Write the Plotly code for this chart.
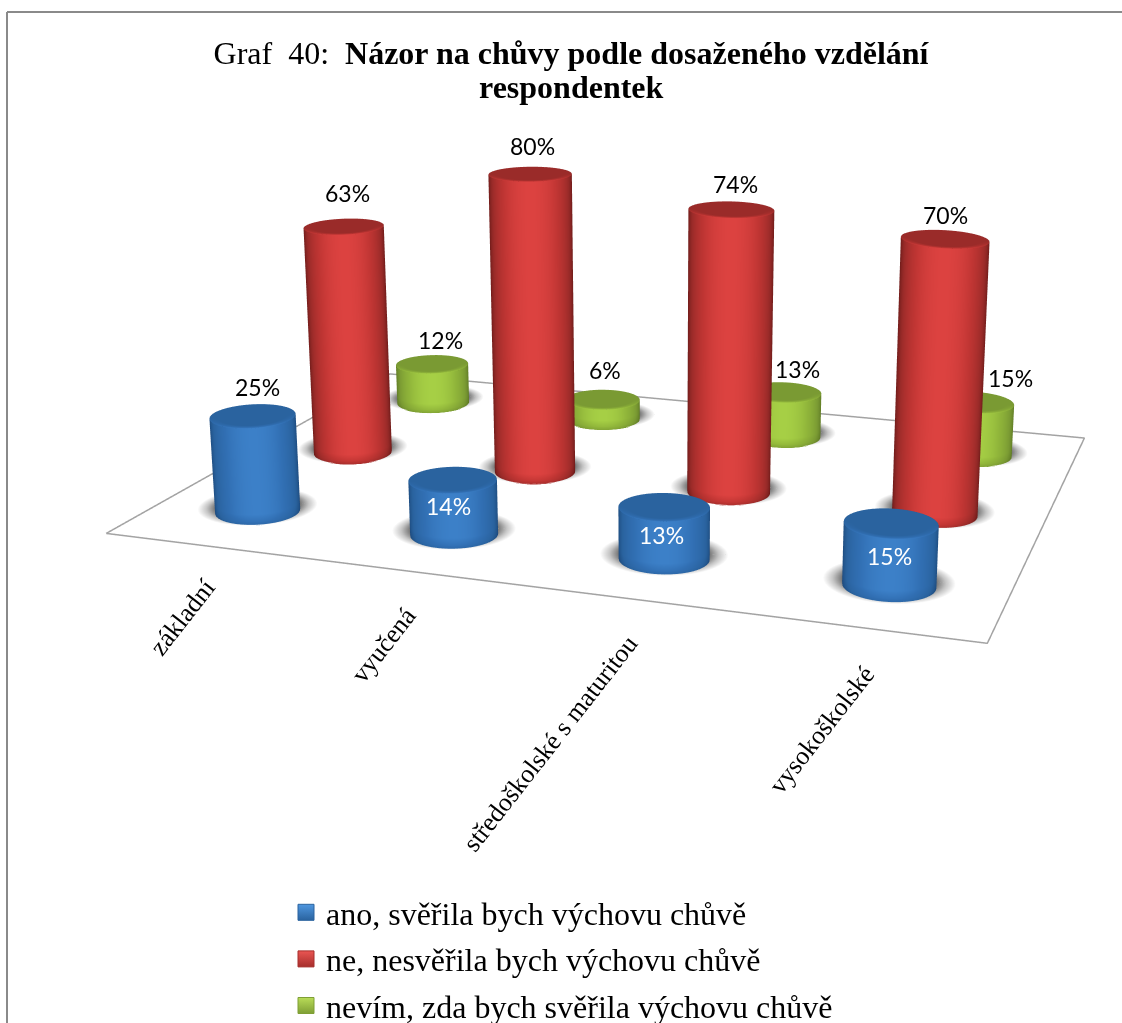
import numpy as np
import plotly.graph_objects as go

categories = ["základní", "vyučená", "středoškolské s maturitou", "vysokoškolské"]
series_names = ["ano, svěřila bych výchovu chůvě", "ne, nesvěřila bych výchovu chůvě", "nevím, zda bych svěřila výchovu chůvě"]
ano = [25, 14, 13, 15]
ne = [63, 80, 74, 70]
nevim = [12, 6, 13, 15]
values = [ano, ne, nevim]

W, H = 1122, 1023
F = (H / 2) / np.tan(np.pi / 8)  # focal length of the 45 degree WebGL camera in pixels

# Scene set-up: camera and proportions.
EYE = np.array([0.2244, -1.3749, 0.5169])
CENTER = np.array([-0.0612, -0.1283, -0.2])
UP = np.array([-0.0042, -0.001, 1.0])
ASPECT_Y, ASPECT_Z = 0.5312, 0.4396
# The reference's lens is longer than the WebGL one: a small shear compensates for it.
SHEAR_XZ, SHEAR_YZ, SHEAR_XY = -0.1649, 0.8646, 0.2173
RADIUS = 0.0519
XR, YR, ZR = [-1, 5], [-1, 4], [0, 100]

fw = (CENTER - EYE) / np.linalg.norm(CENTER - EYE)
right = np.cross(fw, UP)
right = right / np.linalg.norm(right)
cam_up = np.cross(right, fw)


def shear(x, y, z):
    return x + SHEAR_XY * (y - 1.5) + SHEAR_XZ * z / 100, y + SHEAR_YZ * z / 100


def to_screen(x, y, z):
    X = np.array([x / 4 - .5, (y / 3 - .5) * ASPECT_Y, (z / 100 - .5) * ASPECT_Z]) - EYE
    d = X @ fw
    return W / 2 + F * (X @ right) / d, H / 2 - F * (X @ cam_up) / d, d


theta = np.linspace(0, 2 * np.pi, 49)
cos_t, sin_t = np.cos(theta), np.sin(theta)


def ring(cx, cy, rs, zs, lift=0.0):
    """Rows of an upright cylinder: rows rs (radius factors) at heights zs, in scene coordinates."""
    Xs, Ys, Zs = [], [], []
    for r, z in zip(rs, zs):
        mx, my = shear(cx, cy, z)
        u0, v0, d = to_screen(mx, my, z)
        h = 1e-4
        u1, v1, _ = to_screen(mx + h, my, z)
        u2, v2, _ = to_screen(mx, my + h, z)
        J = np.array([[(u1 - u0) / h, (u2 - u0) / h], [(v1 - v0) / h, (v2 - v0) / h]])
        a = RADIUS * F / d
        b = a * (0.18 + (v0 - 170) * 0.0004)
        tilt = (u0 - W / 2) * 0.00016
        du = a * r * cos_t
        dv = -b * r * sin_t + tilt * du - lift
        off = np.linalg.solve(J, np.vstack([du, dv]))
        Xs.append(mx + off[0])
        Ys.append(my + off[1])
        Zs.append(np.full_like(theta, z))
    return np.array(Xs), np.array(Ys), np.array(Zs)


def disc_grid(X, Y, Z, S):
    """Disc grids start at the centre; a repeated centre column keeps plotly from resampling them."""
    X[0, :] = X[0, 0]
    Y[0, :] = Y[0, 0]
    n = X.shape[0]
    return (np.c_[np.full(n, X[0, 0]), X], np.c_[np.full(n, Y[0, 0]), Y], np.c_[Z[:, 0], Z], np.c_[S[:, 0], S])


colorscales = [
    [[0, "#173f6e"], [.42, "#2a639f"], [.75, "#316fb3"], [1, "#3c80c8"]],
    [[0, "#561311"], [.42, "#9a2b29"], [.75, "#bf3533"], [1, "#dc4240"]],
    [[0, "#50691d"], [.42, "#7a9a33"], [.75, "#90b53a"], [1, "#a6cf45"]],
]
shadow_scale = [[0, "#ffffff"], [.5, "#c6c6c6"], [1, "#747474"]]
flat = dict(ambient=1, diffuse=0, specular=0, roughness=1, fresnel=0)

t = np.clip(-sin_t, 0, 1) ** 1.3
tc = np.clip(-sin_t, 0, 1)

fig = go.Figure()
fxs, fys = shear(np.array([0, 4, 4, 0, 0], float), np.array([0, 0, 3, 3, 0], float), 0)
fig.add_trace(go.Scatter3d(x=fxs, y=fys, z=[0] * 5, mode="lines", line=dict(color="#a3a3a3", width=3),
                           showlegend=False, hoverinfo="skip"))

for j, vals in enumerate(values):
    for i, v in enumerate(vals):
        cx, cy = i + .5, j + .5
        # soft shadow on the floor
        rs = np.concatenate([[0], np.linspace(1.0, 1.42, 8)])
        X, Y, Z = ring(cx, cy, rs, np.full(9, .2), lift=5)
        S = np.outer(np.clip((1.42 - rs) / .42, 0, 1), np.ones_like(theta))
        X, Y, Z, S = disc_grid(X, Y, Z, S)
        fig.add_trace(go.Surface(x=X, y=Y, z=Z, surfacecolor=S, colorscale=shadow_scale,
                                 cmin=0, cmax=1, showscale=False, lighting=flat, hoverinfo="skip"))
        # side wall
        zs = np.array([0, 1.0, 2.8, v - 1.2, v])
        fac = np.array([.55, .8, 1, 1, 1.0])
        X, Y, Z = ring(cx, cy, np.ones(5), zs)
        S = np.outer(fac, .12 + .88 * t)
        fig.add_trace(go.Surface(x=X, y=Y, z=Z, surfacecolor=S, colorscale=colorscales[j], cmin=0, cmax=1,
                                 showscale=False, lighting=flat, hoverinfo="skip"))
        # top cap with bevelled rim
        rs = np.array([0, .78, .92, 1.0])
        X, Y, Z = ring(cx, cy, rs, np.full(4, float(v)))
        S = np.vstack([np.full_like(t, .42), np.full_like(t, .42), .42 + .3 * tc, .42 + .58 * tc])
        X, Y, Z, S = disc_grid(X, Y, Z, S)
        fig.add_trace(go.Surface(x=X, y=Y, z=Z, surfacecolor=S, colorscale=colorscales[j], cmin=0, cmax=1,
                                 showscale=False, lighting=flat, hoverinfo="skip"))

legend_colors = ["#2a639f", "#a62e2c", "#7f9f35"]
legend_light = ["#4f97e0", "#ea5552", "#b9dc58"]
for name, col, li in zip(series_names, legend_colors, legend_light):
    fig.add_trace(go.Scatter(x=[None], y=[None], mode="markers", name=name, legendgroup=name,
                             marker=dict(symbol="square", size=16, color=li,
                                         gradient=dict(type="vertical", color=col),
                                         line=dict(color=col, width=1))))

label_px = [[(257, 387), (448, 506), (661, 535), (889, 556)],
            [(347, 193), (532, 146), (735, 184), (945, 215)],
            [(440, 340), (605, 370), (797, 369), (1010, 378)]]
cat_px = [(182, 617), (383, 645), (550, 743), (821, 730)]
annotations = [dict(xref="paper", yref="paper", x=a / W, y=1 - b / H, text=c, showarrow=False, textangle=-52,
                    xanchor="center", yanchor="middle", font=dict(family="Liberation Serif", size=26, color="black"))
               for c, (a, b) in zip(categories, cat_px)]
for j, vals in enumerate(values):
    for i, v in enumerate(vals):
        a, b = label_px[j][i]
        annotations.append(dict(xref="paper", yref="paper", x=a / W, y=1 - b / H, text=f"{v}%", showarrow=False,
                                xanchor="center", yanchor="middle",
                                font=dict(family="Lato", size=23, color="white" if (j == 0 and i > 0) else "black")))
annotations.append(dict(xref="paper", yref="paper", x=571 / W, y=1 - 87 / H, text="<b>respondentek</b>", showarrow=False,
                        xanchor="center", yanchor="middle", font=dict(family="Liberation Serif", size=32, color="black")))
shapes = [dict(type="line", xref="paper", yref="paper", x0=7 / W, x1=1, y0=1 - 12 / H, y1=1 - 12 / H,
               line=dict(color="#8a8a8a", width=2)),
          dict(type="line", xref="paper", yref="paper", x0=7 / W, x1=7 / W, y0=1 - 12 / H, y1=0,
               line=dict(color="#8a8a8a", width=2))]

fig.update_layout(
    width=W, height=H, margin=dict(l=0, r=0, t=0, b=0, autoexpand=False), paper_bgcolor="white", plot_bgcolor="white",
    showlegend=True,
    title=dict(text="Graf  40:  <b>Názor na chůvy podle dosaženého vzdělání</b>",
               x=571 / W, xanchor="center", y=1 - 53 / H, yanchor="middle",
               font=dict(family="Liberation Serif", size=32, color="black")),
    legend=dict(x=286 / W, y=1 - 885 / H, xanchor="left", yanchor="top", tracegroupgap=2,
                font=dict(family="Liberation Serif", size=32, color="black"), bgcolor="rgba(0,0,0,0)"),
    xaxis=dict(visible=False, domain=[0, .01]), yaxis=dict(visible=False, domain=[0, .01]),
    scene=dict(
        domain=dict(x=[0, 1], y=[0, 1]),
        xaxis=dict(visible=False, range=XR),
        yaxis=dict(visible=False, range=YR),
        zaxis=dict(visible=False, range=ZR),
        aspectmode="manual",
        aspectratio=dict(x=(XR[1] - XR[0]) / 4, y=ASPECT_Y * (YR[1] - YR[0]) / 3, z=ASPECT_Z),
        camera=dict(eye=dict(x=float(EYE[0]), y=float(EYE[1]), z=float(EYE[2])),
                    center=dict(x=float(CENTER[0]), y=float(CENTER[1]), z=float(CENTER[2])),
                    up=dict(x=float(UP[0]), y=float(UP[1]), z=float(UP[2])),
                    projection=dict(type="perspective")),
    ),
    annotations=annotations,
    shapes=shapes,
)
fig.write_html("out.html", config=dict(displayModeBar=False),
               post_script="document.body.style.margin='0';document.documentElement.style.overflow='hidden';")
